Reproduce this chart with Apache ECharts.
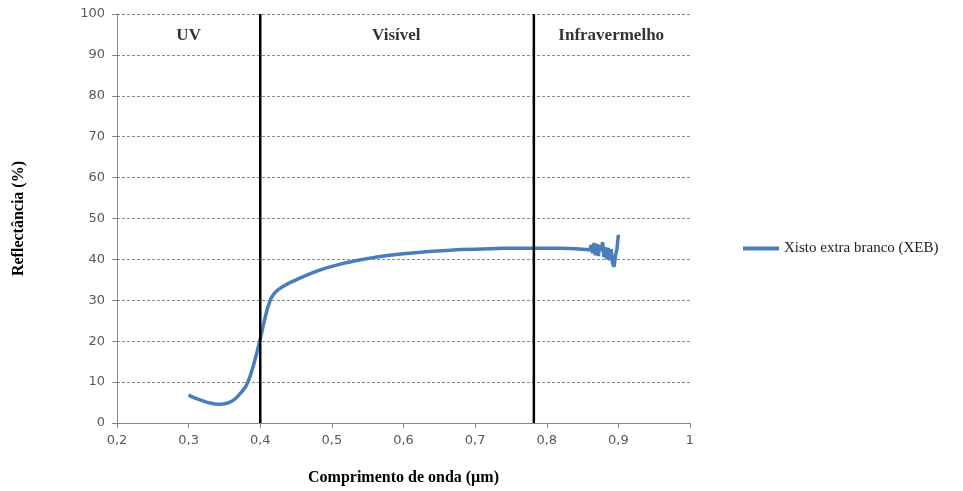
<!DOCTYPE html>
<html lang="pt" style="height: 100%">
<head>
    <meta charset="utf-8">
    <title>Reflectância XEB</title>
    <script src="https://cdn.jsdelivr.net/npm/echarts@6/dist/echarts.min.js"></script>
</head>
<body style="height: 100%; margin: 0; background: #fff">
    <div id="main" style="width: 963px; height: 491px"></div>
    <script>
        // comprimento de onda (µm) e reflectância (%)
        const wavelength = [
            0.300, 0.305, 0.310, 0.315, 0.320, 0.325, 0.330, 0.335, 0.340, 0.345,
            0.350, 0.355, 0.360, 0.365, 0.370, 0.375, 0.380, 0.385, 0.390, 0.395,
            0.400, 0.405, 0.410, 0.415, 0.420, 0.425, 0.430, 0.440, 0.450, 0.460,
            0.470, 0.480, 0.490, 0.500, 0.520, 0.540, 0.560, 0.580, 0.600, 0.620,
            0.640, 0.660, 0.680, 0.700, 0.720, 0.740, 0.760, 0.780, 0.800, 0.820,
            0.840, 0.850, 0.855, 0.860, 0.862, 0.864, 0.866, 0.868, 0.870, 0.872,
            0.874, 0.876, 0.878, 0.880, 0.882, 0.884, 0.886, 0.888, 0.890, 0.892,
            0.894, 0.896, 0.898, 0.900
        ];
        const reflectance = [
            6.8, 6.4, 6.0, 5.7, 5.4, 5.1, 4.9, 4.7, 4.6, 4.6,
            4.7, 4.9, 5.3, 5.9, 6.8, 7.8, 9.0, 11.0, 13.8, 17.0,
            20.5, 24.5, 28.0, 30.5, 31.8, 32.6, 33.2, 34.2, 35.0, 35.8,
            36.5, 37.2, 37.8, 38.3, 39.2, 39.9, 40.5, 41.0, 41.4, 41.7,
            42.0, 42.2, 42.4, 42.5, 42.6, 42.7, 42.7, 42.7, 42.7, 42.7,
            42.6, 42.5, 42.4, 42.3, 43.5, 41.5, 44.0, 41.0, 43.8, 40.8,
            43.5, 42.0, 44.2, 40.5, 43.0, 40.0, 42.8, 39.8, 42.5, 39.0,
            38.2, 41.0, 42.5, 46.0
        ];
        // limites das regiões espectrais
        const boundaries = [0.4, 0.782];
        const regionNames = ['UV', 'Visível', 'Infravermelho'];
        const regionCenters = [0.3, 0.59, 0.89];
        const seriesName = 'Xisto extra branco (XEB)';

        const chart = echarts.init(document.getElementById('main'), null, { renderer: 'canvas' });

        const tickFont = { fontFamily: 'DejaVu Sans', fontSize: 13, color: '#595959' };
        const nameFont = { fontFamily: 'Liberation Serif', fontSize: 16, fontWeight: 'bold', color: '#000' };

        const series = [{
            name: seriesName,
            type: 'line',
            data: wavelength.map((w, i) => [w, reflectance[i]]),
            showSymbol: false,
            lineStyle: { color: '#4a7ebb', width: 3.5 },
            itemStyle: { color: '#4a7ebb' },
            z: 3
        }];
        boundaries.forEach(b => {
            series.push({
                type: 'line',
                data: [[b, 0], [b, 100]],
                showSymbol: false,
                silent: true,
                lineStyle: { color: '#000', width: 2.5 },
                z: 4
            });
        });
        // nomes das regiões
        series.push({
            type: 'scatter',
            data: regionCenters.map((c, i) => ({ value: [c, 94.6], name: regionNames[i] })),
            symbolSize: 0,
            silent: true,
            label: {
                show: true,
                position: 'inside',
                formatter: p => p.name,
                fontFamily: 'Liberation Serif',
                fontSize: 17,
                fontWeight: 'bold',
                color: '#000'
            }
        });

        chart.setOption({
            animation: false,
            grid: { left: 117, right: 273, top: 14, bottom: 68 },
            legend: {
                data: [seriesName],
                left: 738,
                top: 236,
                icon: 'rect',
                itemWidth: 36,
                itemHeight: 4,
                itemGap: 4,
                textStyle: { fontFamily: 'Liberation Serif', fontSize: 15, color: '#222' }
            },
            xAxis: {
                type: 'value',
                min: 0.2,
                max: 1,
                interval: 0.1,
                name: 'Comprimento de onda (µm)',
                nameLocation: 'middle',
                nameGap: 47,
                nameTextStyle: nameFont,
                axisLine: { lineStyle: { color: '#868686' } },
                axisTick: { show: true, length: 5, lineStyle: { color: '#868686' } },
                axisLabel: {
                    ...tickFont,
                    margin: 11,
                    formatter: v => (Math.abs(v - 1) < 1e-9 ? '1' : v.toFixed(1).replace('.', ','))
                },
                splitLine: { show: false }
            },
            yAxis: {
                type: 'value',
                min: 0,
                max: 100,
                interval: 10,
                name: 'Reflectância (%)',
                nameLocation: 'middle',
                nameGap: 90,
                nameRotate: 90,
                nameTextStyle: nameFont,
                axisLine: { show: true, lineStyle: { color: '#868686' } },
                axisTick: { show: true, length: 5, lineStyle: { color: '#868686' } },
                axisLabel: { ...tickFont, margin: 12 },
                splitLine: { lineStyle: { color: '#8c8c8c', type: [3, 2], width: 1 } }
            },
            series: series
        });
    </script>
</body>
</html>
